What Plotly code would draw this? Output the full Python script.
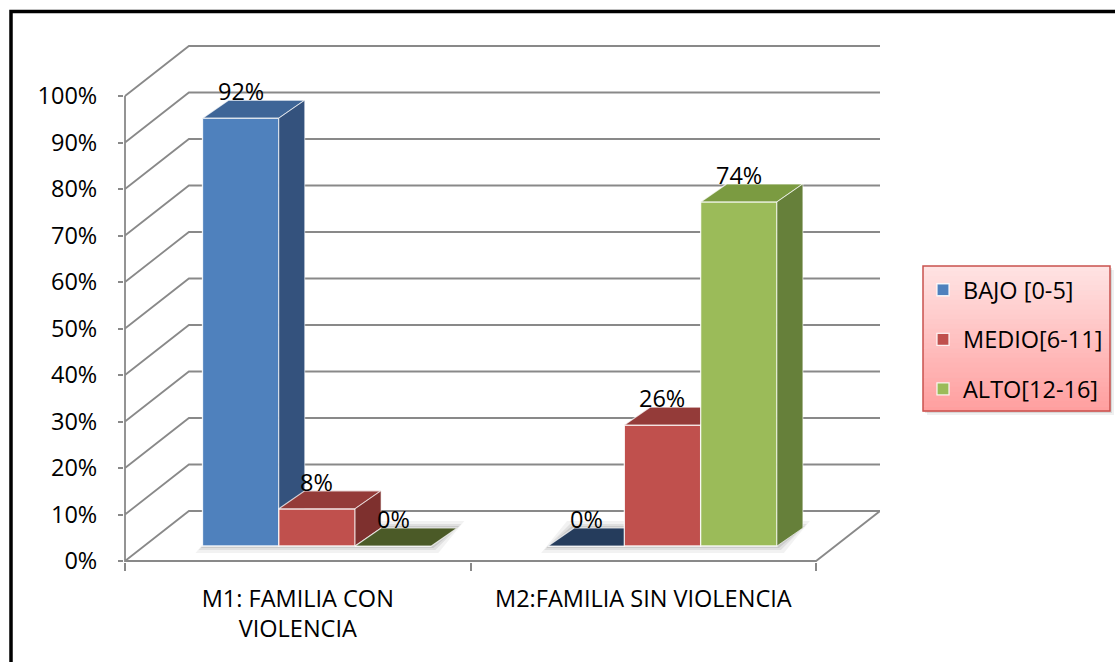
import plotly.graph_objects as go

# ---------------- data ----------------
CATEGORIES = ["M1: FAMILIA CON<br>VIOLENCIA", "M2:FAMILIA SIN VIOLENCIA"]
SERIES_NAMES = ["BAJO [0-5]", "MEDIO[6-11]", "ALTO[12-16]"]
BAJO = [92, 0]
MEDIO = [8, 26]
ALTO = [0, 74]
Y_TICKS = [0, 10, 20, 30, 40, 50, 60, 70, 80, 90, 100]
Y_TICK_LABELS = ["0%", "10%", "20%", "30%", "40%", "50%", "60%", "70%", "80%", "90%", "100%"]

SERIES = [BAJO, MEDIO, ALTO]
FRONT = ["#4F81BD", "#C0504D", "#9BBB59"]
TOP = ["#3E6597", "#943B39", "#7B9B41"]
TOP_ZERO = ["#253C5C", "#5E2220", "#4B5A27"]
SIDE = ["#34527D", "#7E302E", "#66803A"]
GRID = "#898989"
FONT = "Open Sans, Lato, Liberation Sans, sans-serif"
FS = 23.5

# ---------------- geometry (style) ----------------
W, H = 1115, 662
ML, MR, MT, MB = 124, 235, 45, 100
PW, PH = W - ML - MR, H - MT - MB
WALL_DX_PX, WALL_DY_PX = 64, 50
X_LO, X_HI = -0.5, 1.5
XPX = (PW - WALL_DX_PX) / (X_HI - X_LO)          # px per category unit
DDX = WALL_DX_PX / XPX
YPX = (PH - 2 - WALL_DY_PX) / 100.0               # px per percent
DDY = WALL_DY_PX / YPX
XR = [X_LO - 1.0 / XPX, X_HI + DDX]
YR = [-1.0 / YPX, (PH - 1) / YPX]

DEPTH_F = 0.3
BAR_W = 76.4 / XPX
BDX = 26 / XPX
BDY = 18 / YPX
BASE = DEPTH_F * DDY
SHIFT = DEPTH_F * DDX
CAT_POS = [0, 1]

fig = go.Figure()

# gridlines / walls as shapes below everything
path = ""
for v in Y_TICKS:
    path += f"M{X_LO},{v} L{X_LO + DDX},{v + DDY} L{X_HI + DDX},{v + DDY} "
path += f"M{X_LO},{Y_TICKS[-1]} L{X_LO},0 L{X_HI},0 L{X_HI + DDX},{DDY}"
shapes = [dict(type="path", path=path, xref="x", yref="y", layer="below",
               line=dict(color=GRID, width=1.8))]

# soft floor shadows under each bar group
for c in CAT_POS:
    gx0 = c + SHIFT - 1.5 * BAR_W
    gx1 = gx0 + 3 * BAR_W
    for k, a in [(7, 0.05), (4, 0.07), (2, 0.09)]:
        ex, ey = k / XPX, k / YPX
        p = (f"M{gx0 - ex},{BASE - ey} L{gx1 + ex},{BASE - ey} "
             f"L{gx1 + BDX + ex},{BASE + BDY + ey} L{gx0 + BDX - ex},{BASE + BDY + ey} Z")
        shapes.append(dict(type="path", path=p, xref="x", yref="y", layer="below",
                           fillcolor=f"rgba(0,0,0,{a})", line=dict(width=0)))

annotations = []
for i, (name, vals) in enumerate(zip(SERIES_NAMES, SERIES)):
    xa = "x" if i == 0 else f"x{i + 1}"
    ya = "y" if i == 0 else f"y{i + 1}"
    off = SHIFT - 1.5 * BAR_W + i * BAR_W
    fig.add_trace(go.Bar(
        x=CAT_POS, y=vals, base=[BASE] * len(vals), offset=off, width=BAR_W,
        name=name, legendgroup=name, xaxis=xa, yaxis=ya,
        marker=dict(color=FRONT[i], line=dict(color="rgba(255,255,255,0.85)", width=1.3)),
        hoverinfo="skip"))
    sx, sy = [], []
    for c, v in zip(CAT_POS, vals):
        x0 = c + off
        x1 = x0 + BAR_W
        yb = BASE
        yt = BASE + v
        if v > 0:
            sx += [x1, x1, x1 + BDX, x1 + BDX, x1, None]
            sy += [yb, yt, yt + BDY, yb + BDY, yb, None]
        fig.add_trace(go.Scatter(
            x=[x0, x1, x1 + BDX, x0 + BDX, x0], y=[yt, yt, yt + BDY, yt + BDY, yt],
            mode="lines", fill="toself", fillcolor=TOP[i] if v > 0 else TOP_ZERO[i],
            line=dict(color="rgba(255,255,255,0.75)", width=1.2),
            xaxis=xa, yaxis=ya, showlegend=False, hoverinfo="skip"))
        annotations.append(dict(x=x0 + BAR_W / 2, y=yt, xref="x", yref="y", yshift=27,
                                text=f"{v}%", showarrow=False,
                                font=dict(family=FONT, size=FS, color="#000000")))
    if sx:
        fig.add_trace(go.Scatter(
            x=sx, y=sy, mode="lines", fill="toself", fillcolor=SIDE[i],
            line=dict(color="rgba(255,255,255,0.6)", width=1.0),
            xaxis=xa, yaxis=ya, showlegend=False, hoverinfo="skip"))

# outer frame (top and left)
def px2paper(px, py):
    return (px - ML) / PW, (H - MB - py) / PH

fx0, fy0 = px2paper(11, H + 5)
fx1, fy1 = px2paper(11, 11.5)
fx2, _ = px2paper(W + 5, 11.5)
shapes.append(dict(type="path", xref="paper", yref="paper",
                   path=f"M{fx0},{fy0} L{fx1},{fy1} L{fx2},{fy1}",
                   line=dict(color="#000000", width=3.5)))

# legend box: shadow, gradient, border
LBX0, LBX1, LBY0, LBY1 = 923, 1110, 266, 411
for k, a in [(4, 0.06), (2, 0.10)]:
    a0, b0 = px2paper(LBX0 + k, LBY0 + k)
    a1, b1 = px2paper(LBX1 + k, LBY1 + k)
    shapes.append(dict(type="rect", xref="paper", yref="paper", x0=a0, x1=a1, y0=b1, y1=b0,
                       fillcolor=f"rgba(0,0,0,{a})", line=dict(width=0)))
NB = 30
for b in range(NB):
    t = (b + 0.5) / NB
    g = int(round(228 - (228 - 158) * t))
    yy0 = LBY0 + (LBY1 - LBY0) * b / NB
    yy1 = LBY0 + (LBY1 - LBY0) * (b + 1) / NB + 0.6
    a0, b0 = px2paper(LBX0, yy0)
    a1, b1 = px2paper(LBX1, yy1)
    shapes.append(dict(type="rect", xref="paper", yref="paper", x0=a0, x1=a1, y0=b1, y1=b0,
                       fillcolor=f"rgb(255,{g},{g})", line=dict(width=0)))
a0, b0 = px2paper(LBX0, LBY0)
a1, b1 = px2paper(LBX1, LBY1)
shapes.append(dict(type="rect", xref="paper", yref="paper", x0=a0, x1=a1, y0=b1, y1=b0,
                   fillcolor="rgba(0,0,0,0)", line=dict(color="#C9514E", width=1.5)))

lx, ly = px2paper(LBX0, LBY0 + 2)

axis_common = dict(showgrid=False, zeroline=False, showline=False)
fig.update_layout(
    width=W, height=H,
    margin=dict(l=ML, r=MR, t=MT, b=MB, pad=0, autoexpand=False),
    paper_bgcolor="white", plot_bgcolor="white",
    barmode="overlay",
    font=dict(family=FONT, size=FS, color="#000000"),
    shapes=shapes, annotations=annotations,
    showlegend=True,
    legend=dict(x=lx, y=ly, xanchor="left", yanchor="top", xref="paper", yref="paper",
                bgcolor="rgba(0,0,0,0)", borderwidth=0, tracegroupgap=16,
                font=dict(family=FONT, size=FS, color="#000000"), traceorder="grouped"),
    xaxis=dict(range=XR, tickmode="array", tickvals=CAT_POS, ticktext=CATEGORIES,
               ticks="", ticklabelstandoff=20,
               minor=dict(tickmode="array", tickvals=[X_LO, 0.5, X_HI], ticks="outside",
                          ticklen=8, tickwidth=1.8, tickcolor=GRID),
               tickfont=dict(family=FONT, size=FS, color="#000000"), **axis_common),
    yaxis=dict(range=YR, tickmode="array", tickvals=Y_TICKS, ticktext=Y_TICK_LABELS,
               ticks="outside", ticklen=5, tickwidth=1.8, tickcolor=GRID,
               ticklabelstandoff=16,
               tickfont=dict(family=FONT, size=FS, color="#000000"), **axis_common),
    xaxis2=dict(range=XR, overlaying="x", visible=False),
    yaxis2=dict(range=YR, overlaying="y", visible=False),
    xaxis3=dict(range=XR, overlaying="x", visible=False),
    yaxis3=dict(range=YR, overlaying="y", visible=False),
)

fig.write_html("out.html", config={"displayModeBar": False},
               post_script="document.body.style.margin='0';document.body.style.overflow='hidden';")
